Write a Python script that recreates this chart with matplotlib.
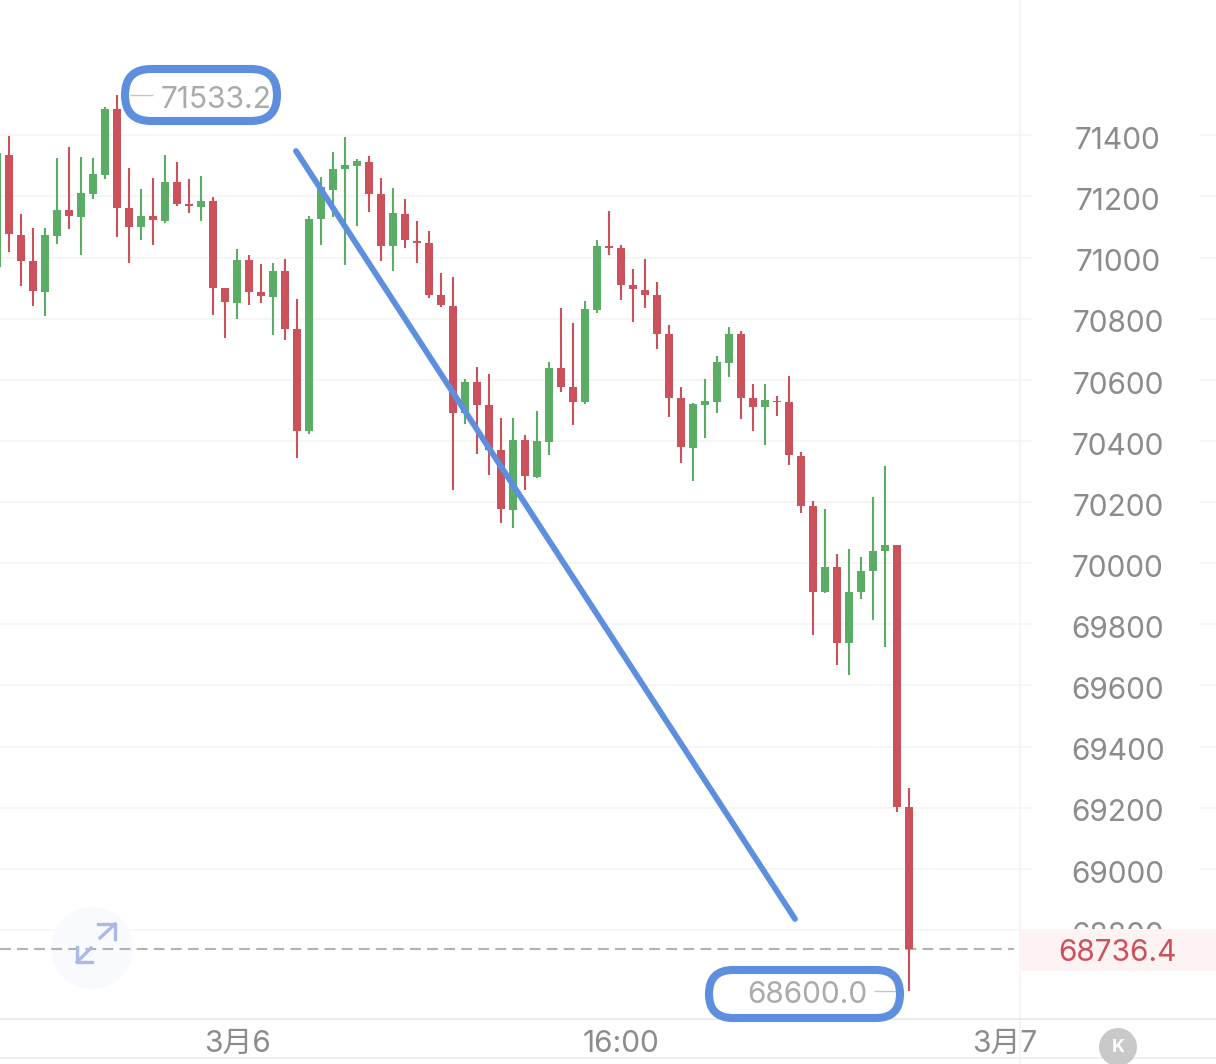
import matplotlib
matplotlib.use('Agg')
import matplotlib.pyplot as plt
from matplotlib.patches import FancyBboxPatch, Circle, Rectangle
import numpy as np

plt.rcParams['font.family'] = ['Inter', 'Noto Sans CJK SC', 'DejaVu Sans']

open_p = [70970,
    71337, 71075, 70988, 70888, 71072, 71155, 71134, 71208, 71269, 71485,
    71161, 71100, 71136, 71120, 71247, 71174, 71166, 71185, 70899, 70852,
    70991, 70886, 70872, 70956, 70765, 70431, 71125, 71222, 71290, 71301,
    71314, 71207, 71037, 71142, 71055, 71049, 70877, 70842, 70490, 70592,
    70517, 70370, 70175, 70403, 70282, 70396, 70639, 70576, 70527, 70828,
    71038, 71030, 70909, 70894, 70877, 70750, 70539, 70378, 70518, 70528,
    70656, 70749, 70539, 70510, 70531, 70526, 70352, 70186, 69905, 69986,
    69738, 69905, 69975, 70039, 70058, 69203]
close_p = [71341,
    71077, 70990, 70890, 71073, 71156, 71136, 71210, 71272, 71485, 71161,
    71101, 71137, 71123, 71248, 71174, 71168, 71186, 70900, 70853, 70992,
    70886, 70874, 70957, 70765, 70434, 71127, 71232, 71291, 71302, 71315,
    71208, 71039, 71145, 71056, 71049, 70878, 70844, 70492, 70593, 70517,
    70370, 70176, 70403, 70284, 70399, 70640, 70577, 70528, 70832, 71039,
    71031, 70910, 70896, 70879, 70751, 70540, 70380, 70520, 70531, 70657,
    70750, 70541, 70511, 70533, 70527, 70353, 70188, 69906, 69986, 69739,
    69906, 69976, 70040, 70059, 69203, 68736.4]
high_p = [71341,
    71398, 71141, 71098, 71096, 71326, 71361, 71328, 71326, 71494, 71533.2,
    71293, 71224, 71260, 71336, 71312, 71256, 71267, 71197, 70900, 71027,
    71009, 70979, 70982, 70994, 70863, 71136, 71265, 71344, 71393, 71321,
    71332, 71259, 71226, 71193, 71121, 71087, 70948, 70936, 70601, 70643,
    70618, 70474, 70474, 70418, 70497, 70659, 70834, 70785, 70859, 71057,
    71153, 71040, 70963, 70994, 70920, 70779, 70575, 70525, 70602, 70678,
    70774, 70760, 70585, 70585, 70548, 70614, 70364, 70203, 70176, 70029,
    70048, 70019, 70218, 70319, 70060, 69263]
low_p = [70970,
    71019, 70908, 70843, 70810, 71043, 71092, 71007, 71193, 71258, 71066,
    70983, 71057, 71040, 71112, 71170, 71145, 71120, 70812, 70738, 70800,
    70845, 70850, 70748, 70730, 70343, 70423, 71041, 71132, 70977, 71104,
    71150, 70990, 70957, 71030, 70982, 70869, 70837, 70240, 70457, 70358,
    70288, 70132, 70114, 70238, 70280, 70354, 70561, 70451, 70520, 70817,
    71008, 70861, 70790, 70834, 70700, 70478, 70327, 70269, 70411, 70490,
    70610, 70471, 70434, 70388, 70483, 70321, 70165, 69764, 69904, 69668,
    69633, 69883, 69814, 69725, 69187, 68600]

y_ticks = [71400, 71200, 71000, 70800, 70600, 70400, 70200, 70000,
           69800, 69600, 69400, 69200, 69000, 68800]
x_ticks = [20, 52, 84]
x_labels = ['3月6', '16:00', '3月7']
last_price = 68736.4

red = '#cb525a'
green = '#5bac64'
blue = '#5e8fdf'
grey = '#8c8c8c'

fig = plt.figure(figsize=(12.16, 10.64), dpi=100)

# overlay in pixel coordinates for the hand drawn marks and app furniture
ov = fig.add_axes([0, 0, 1, 1], zorder=2)
ov.set_xlim(0, 1216)
ov.set_ylim(1064, 0)
ov.axis('off')
ov.patch.set_alpha(0)

ax = fig.add_axes([0, 0, 1, 1], zorder=1)
ax.set_xlim(0.25, 101.58)
ax.set_ylim(68361.3, 71842.7)
ax.axis('off')

# grid, broken around the price labels
label_x = 93.4
ax.hlines(y_ticks, 0.25, 86.25, color='#f5f5f5', lw=1.2, zorder=1)
ax.hlines(y_ticks[:-1], 100.25, 101.58, color='#f5f5f5', lw=1.2, zorder=1)
ax.add_patch(Circle((92, 948), 41, fc='#f8fafe', ec='none', transform=ov.transData, zorder=1.5))

x = np.arange(len(open_p))
o = np.array(open_p)
c = np.array(close_p)
colors = [green if c[i] >= o[i] else red for i in x]
ax.vlines(x, low_p, high_p, color=colors, lw=1.5, zorder=3)
ax.bar(x, np.abs(c - o), bottom=np.minimum(o, c), width=0.667, color=colors, lw=0, zorder=3)

ax.hlines(last_price, 0.25, 84.75, color='#b2b2b2', lw=1.5, linestyles=(0, (5.2, 3)), zorder=2)

for v in y_ticks:
    ax.text(label_x, v - 9, str(v), color=grey, fontsize=21.5, ha='center', va='center_baseline', zorder=2)
for t, s in zip(x_ticks, x_labels):
    ax.text(t, 68438, s, color=grey, fontsize=21.5, ha='center', va='center_baseline')

# high / low / last labels
ax.text(13.6, 71524, '71533.2', color='#aaaaaa', fontsize=21.5, ha='left', va='center_baseline', zorder=6)
ax.hlines(71533.2, 11.1, 13.0, color='#c4c4c4', lw=1, zorder=6)
ax.text(72.55, 68596, '68600.0', color='#aaaaaa', fontsize=21.5, ha='right', va='center_baseline', zorder=6)
ax.hlines(68600, 73.1, 75.0, color='#c4c4c4', lw=1, zorder=6)

ov.add_patch(Rectangle((1020, 929), 196, 42, fc='#fdf3f3', ec='none', zorder=2))
ov.text(1118, 950, '68736.4', color=red, fontsize=21.5, ha='center', va='center_baseline', zorder=3)
ov.axvline(1020, color='#f3f3f3', lw=1.2, zorder=1)
ov.axhline(1019, color='#ececec', lw=1.4, zorder=1)
ov.axhline(1058, color='#f0f0f0', lw=1.4, zorder=1)

ov.add_patch(FancyBboxPatch((125, 69), 152, 52, boxstyle='round,pad=0,rounding_size=26',
                            fc='none', ec=blue, lw=5.8, zorder=5))
ov.add_patch(FancyBboxPatch((709, 970), 191, 48, boxstyle='round,pad=0,rounding_size=24',
                            fc='none', ec=blue, lw=5.8, zorder=5))
ov.plot([296, 795], [151, 919], color=blue, lw=4.2, solid_capstyle='round', zorder=5)

ov.plot([100, 115], [938, 924], color='#a9bbe3', lw=2.4, zorder=4)
ov.plot([98, 115, 115], [924, 924, 939], color='#a9bbe3', lw=2.4, zorder=4)
ov.plot([91, 77], [948, 962], color='#a9bbe3', lw=2.4, zorder=4)
ov.plot([77, 77, 92], [947, 962, 962], color='#a9bbe3', lw=2.4, zorder=4)

ov.add_patch(Circle((1118, 1047), 19, fc='#c9c9c9', ec='none', zorder=4))
ov.text(1118, 1047, 'K', color='white', fontsize=13, fontweight='bold', ha='center', va='center', zorder=5)

fig.savefig('out.png', dpi=100)
